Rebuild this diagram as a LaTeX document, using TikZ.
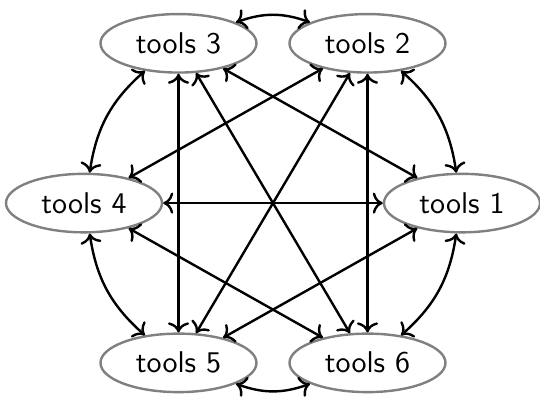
\documentclass[tikz,border=0pt]{standalone}
\usepackage{amsmath}
\usepackage{tikz}
\usetikzlibrary{shapes.geometric, arrows.meta, positioning}

\tikzset{
    tool/.style={ellipse, draw=gray, thick, font=\sffamily, minimum width=52pt, minimum height=19.5pt, inner sep=0pt},
    link/.style={<->, thick}
}

\begin{document}
\begin{tikzpicture}[scale=1]
\useasboundingbox (-91pt,-65pt) rectangle (89pt,67.7pt);
\foreach \i in {1,...,6} {
    \pgfmathsetmacro{\ang}{(\i-1)*60}
    \node[tool] (t\i) at ({63pt*cos(\ang)},{61.5pt*sin(\ang)}) {tools \i};
}
% neighbours, bent outwards
\foreach \a/\b in {1/2, 2/3, 3/4, 4/5, 5/6, 6/1} {
    \draw[link] (t\a) to[bend right=20] (t\b);
}
% the rest, straight
\foreach \a/\b in {1/3, 1/4, 1/5, 2/4, 2/5, 2/6, 3/5, 3/6, 4/6} {
    \draw[link] (t\a) -- (t\b);
}
\end{tikzpicture}
\end{document}
